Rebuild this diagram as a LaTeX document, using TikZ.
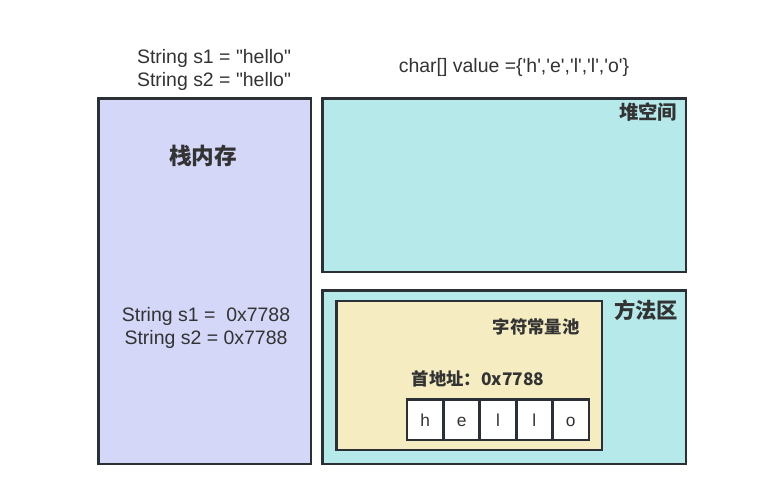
\documentclass[tikz,border=0pt]{standalone}
\usepackage{fontspec}
\setmainfont{Liberation Sans}[Ligatures=TeXOff]
\newfontfamily\cjk{Noto Sans CJK SC}
\usetikzlibrary{positioning}
\definecolor{stackblue}{HTML}{D4D7F7}
\definecolor{heapcyan}{HTML}{B5E9EA}
\definecolor{poolyellow}{HTML}{F5EDC1}
\definecolor{edge}{HTML}{2B2F36}
\definecolor{txt}{HTML}{333333}
\tikzstyle{area}=[draw=edge, line width=2.2pt, inner sep=0pt, outer sep=0pt]
\tikzstyle{cell}=[draw=edge, fill=white, line width=2pt, minimum width=27.3pt, minimum height=30.4pt, inner sep=0pt, outer sep=0pt, text height=9.5pt, text depth=0pt, text=txt, font=\fontsize{13}{15}\selectfont]
\tikzstyle{code}=[text=txt, align=center, font=\fontsize{14.6}{17.5}\selectfont]
\tikzstyle{title}=[text=txt, font=\cjk\bfseries\fontsize{16}{18}\selectfont]

\begin{document}
\begin{tikzpicture}[x=0.75pt, y=-0.75pt]
\useasboundingbox (0,0) rectangle (759,503);

%stack
    \node[area, fill=stackblue, minimum width=159.4pt, minimum height=274.1pt] (stack) at (204.75,281.25) {};
    \node[title, font=\cjk\bfseries\fontsize{17}{19}\selectfont] (stacktitle) at (203,156) {栈内存};
    \node[code] (stackvars) at (206,328) {String s1 =\ \ 0x7788\\String s2 = 0x7788};
    \node[code] (decl) at (214,70) {String s1 = "hello"\\String s2 = "hello"};

%heap
    \node[area, fill=heapcyan, minimum width=272.6pt, minimum height=130.1pt] (heap) at (504.25,185.25) {};
    \node[title, font=\cjk\bfseries\fontsize{14.5}{17}\selectfont] (heaptitle) at (648,112) {堆空间};
    \node[code] (chars) at (514,67) {char[] value =\{'h','e','l','l','o'\}};

%method area
    \node[area, fill=heapcyan, minimum width=272.6pt, minimum height=130.1pt] (method) at (504.25,377.25) {};
    \node[title] (methodtitle) at (646,310) {方法区};
    \node[area, fill=poolyellow, minimum width=199.1pt, minimum height=111.75pt] (pool) at (469.25,375.5) {};
    \node[title, font=\cjk\bfseries\fontsize{13}{15}\selectfont] (pooltitle) at (536,327) {字符常量池};
    \node[title, font=\cjk\bfseries\fontsize{13}{15}\selectfont] (addr) at (478,379) {首地址：0x7788};

    \foreach \pos/\name/\label in {{(425.2,419.75)/c1/h}, {(461.6,419.75)/c2/e}, {(498,419.75)/c3/l}, {(534.4,419.75)/c4/l}, {(570.8,419.75)/c5/o}}
        \node[cell] (\name) at \pos {\label};

\end{tikzpicture}
\end{document}
